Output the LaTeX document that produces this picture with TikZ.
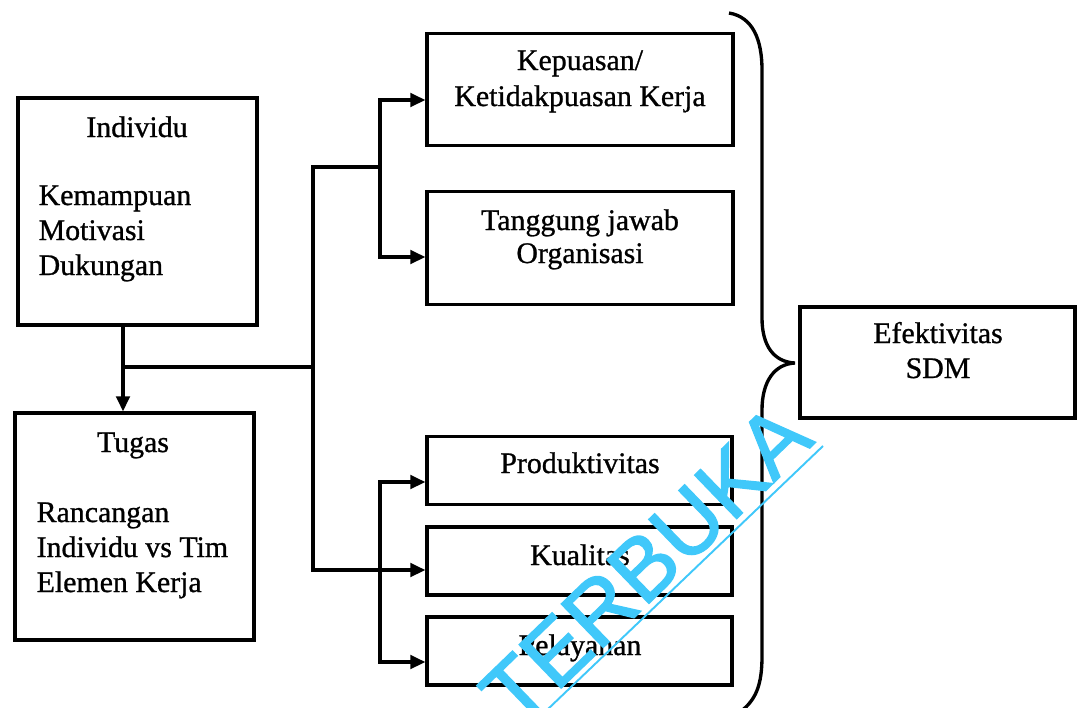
\documentclass[tikz,border=0pt]{standalone}
\usepackage{fontspec}
\setmainfont{Liberation Serif}[FakeBold=0.9]
\newfontfamily\wmfont{Liberation Sans}[FakeBold=1.6]
\usetikzlibrary{arrows.meta}
\definecolor{wmcyan}{RGB}{64,200,250}

\begin{document}
\begin{tikzpicture}[
    x=0.02cm, y=-0.02cm, % one unit = one pixel of the scan
    >={Triangle[length=0.3cm, width=0.27cm]},
    line width=1.9pt,
    % Box styles
    big box/.style={draw, rectangle, inner sep=0pt, minimum width=4.78cm, minimum height=4.54cm},
    wide box/.style={draw, rectangle, inner sep=0pt, minimum width=6.12cm, minimum height=2.25cm},
    flat box/.style={draw, rectangle, inner sep=0pt, minimum width=6.1cm, minimum height=1.36cm},
    goal box/.style={draw, rectangle, inner sep=0pt, minimum width=5.5cm, minimum height=2.22cm},
    % Text styles
    label text/.style={font=\fontsize{17}{20}\selectfont, inner sep=0pt, anchor=base},
    list text/.style={label text, anchor=base west},
    mark text/.style={font=\wmfont\fontsize{50}{54}\selectfont, text=wmcyan, inner sep=0pt}
]

\useasboundingbox (0,0) rectangle (1077,707);
\clip (0,0) rectangle (1077,707);

% ==========================================
% 1. INPUT BOXES (Left)
% ==========================================

% Individu
\node[big box] (indiv) at (137.5,211.5) {};
\node[label text] (indiv_t) at (137,137) {Individu};
\node[list text] (indiv_a) at (37,205) {Kemampuan};
\node[list text] (indiv_b) at (37,240) {Motivasi};
\node[list text] (indiv_c) at (37,275) {Dukungan};

% Tugas
\node[big box] (tugas) at (134.5,526.5) {};
\node[label text] (tugas_t) at (133,452) {Tugas};
\node[list text] (tugas_a) at (35,522) {Rancangan};
\node[list text] (tugas_b) at (35,557) {Individu vs Tim};
\node[list text] (tugas_c) at (35,592) {Elemen Kerja};


% ==========================================
% 2. OUTCOME BOXES (Middle)
% ==========================================

% Top pair
\node[wide box] (puas) at (580,89.5) {};
\node[label text] (puas_a) at (580,70) {Kepuasan/};
\node[label text] (puas_b) at (580,106) {Ketidakpuasan Kerja};

\node[wide box] (tanggung) at (580,248) {};
\node[label text] (tanggung_a) at (580,230) {Tanggung jawab};
\node[label text] (tanggung_b) at (580,263) {Organisasi};

% Bottom three
\node[flat box] (produk) at (579.5,470.5) {};
\node[label text] (produk_t) at (580,473) {Produktivitas};

\node[flat box] (kualitas) at (579.5,561) {};
\node[label text] (kualitas_t) at (580,565) {Kualitas};

\node[flat box] (layan) at (579.5,651) {};
\node[label text] (layan_t) at (580,655) {Pelayanan};


% ==========================================
% 3. RESULT BOX (Right) AND BRACE
% ==========================================

\node[goal box] (efek) at (937.5,362.5) {};
\node[label text] (efek_a) at (938,343) {Efektivitas};
\node[label text] (efek_b) at (938,378) {SDM};

% Curly brace gathering the five outcomes
\draw (729,13) .. controls (753,17) and (762,40) .. (762,70)
    -- (762,318) .. controls (762,346) and (774,362) .. (795,363)
    .. controls (774,364) and (762,382) .. (762,410)
    -- (762,656) .. controls (762,685) and (756,700) .. (740,712);


% ==========================================
% 4. ARROWS AND CONNECTORS
% ==========================================

% Split point below Individu
\coordinate (junc) at (123,367);
\coordinate (hub) at (313,367);
\coordinate (upfork) at (380,167);
\coordinate (lowfork) at (380,570);

\draw (indiv.south -| junc) -- (junc);
\draw[->] (junc) -- (tugas.north -| junc);
\draw (junc) -- (hub);

% Upper branch
\draw (hub) |- (upfork);
\draw[->] (upfork) |- ([yshift=-0.21cm]puas.west);
\draw[->] (upfork) |- ([yshift=-0.18cm]tanggung.west);

% Lower branch
\draw[->] (hub) |- ([yshift=-0.18cm]kualitas.west);
\draw[->] (lowfork) |- ([yshift=-0.23cm]produk.west);
\draw[->] (lowfork) |- ([yshift=-0.22cm]layan.west);


% ==========================================
% 5. WATERMARK
% ==========================================

\node[mark text, rotate=44, anchor=base east] (wmark) at (817,441) {TERBUKA};
\draw[wmcyan, line width=1.1pt] (548,709) -- (823,446);

\end{tikzpicture}
\end{document}
